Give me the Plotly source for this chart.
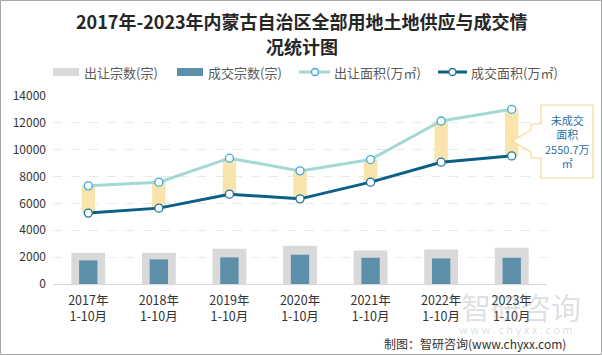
import plotly.graph_objects as go

categories = ["2017年<br>1-10月", "2018年<br>1-10月", "2019年<br>1-10月", "2020年<br>1-10月",
              "2021年<br>1-10月", "2022年<br>1-10月", "2023年<br>1-10月"]
supply_count = [2330, 2330, 2625, 2850, 2500, 2575, 2700]      # 出让宗数(宗)
deal_count = [1757, 1830, 1980, 2180, 1955, 1905, 1955]        # 成交宗数(宗)
supply_area = [7310, 7585, 9370, 8425, 9265, 12140, 13010]     # 出让面积(万㎡)
deal_area = [5280, 5650, 6690, 6340, 7585, 9070, 9540]         # 成交面积(万㎡)
y_ticks = [0, 2000, 4000, 6000, 8000, 10000, 12000, 14000]
y_tick_labels = [str(v) for v in y_ticks]

W, H = 602, 355
ML, MR, MT, MB = 53, 55, 96, 71
PW, PH = W - ML - MR, H - MT - MB
FONT = "Noto Sans CJK SC"


def px(x):
    return (x - ML) / PW


def py(y):
    return (H - MB - y) / PH


gap = [s - d for s, d in zip(supply_area, deal_area)]

fig = go.Figure()
fig.add_trace(go.Bar(x=categories, y=supply_count, width=0.48, marker_color="#D9D9D9",
                     marker_line_width=0, name="出让宗数(宗)"))
fig.add_trace(go.Bar(x=categories, y=deal_count, width=0.26, marker_color="#5E8FA8",
                     marker_line_width=0, name="成交宗数(宗)"))
fig.add_trace(go.Bar(x=categories, y=gap, base=deal_area, width=0.19, marker_color="#F9E4AC",
                     marker_line_width=0, name="未成交"))
fig.add_trace(go.Scatter(x=categories, y=supply_area, mode="lines+markers", name="出让面积(万㎡)",
                         line=dict(color="#A3D8D4", width=3),
                         marker=dict(size=8, color="white", line=dict(color="#3FA9DD", width=1.3))))
fig.add_trace(go.Scatter(x=categories, y=deal_area, mode="lines+markers", name="成交面积(万㎡)",
                         line=dict(color="#0C5F85", width=3),
                         marker=dict(size=8, color="white", line=dict(color="#1F74A6", width=1.3))))

shapes = []
annotations = []

# title
annotations.append(dict(text="<b>2017年-2023年内蒙古自治区全部用地土地供应与成交情</b>", x=px(302), y=py(21),
                        xref="paper", yref="paper", showarrow=False, xanchor="center", yanchor="middle",
                        font=dict(family=FONT, size=18, color="#262626")))
annotations.append(dict(text="<b>况统计图</b>", x=px(302), y=py(46),
                        xref="paper", yref="paper", showarrow=False, xanchor="center", yanchor="middle",
                        font=dict(family=FONT, size=18, color="#262626")))

# legend
ly = 72
shapes.append(dict(type="rect", xref="paper", yref="paper", x0=px(53), x1=px(79), y0=py(ly - 4), y1=py(ly + 4),
                   fillcolor="#D9D9D9", line_width=0))
shapes.append(dict(type="rect", xref="paper", yref="paper", x0=px(177), x1=px(203), y0=py(ly - 4), y1=py(ly + 4),
                   fillcolor="#5E8FA8", line_width=0))
shapes.append(dict(type="line", xref="paper", yref="paper", x0=px(299), x1=px(330), y0=py(ly), y1=py(ly),
                   line=dict(color="#A3D8D4", width=3)))
shapes.append(dict(type="circle", xref="paper", yref="paper", x0=px(311.5), x1=px(318.5), y0=py(ly - 3.5),
                   y1=py(ly + 3.5), fillcolor="white", line=dict(color="#3FA9DD", width=1.3)))
shapes.append(dict(type="line", xref="paper", yref="paper", x0=px(438), x1=px(467), y0=py(ly), y1=py(ly),
                   line=dict(color="#0C5F85", width=3)))
shapes.append(dict(type="circle", xref="paper", yref="paper", x0=px(449), x1=px(456), y0=py(ly - 3.5),
                   y1=py(ly + 3.5), fillcolor="white", line=dict(color="#1F74A6", width=1.3)))
for txt, x in [("出让宗数(宗)", 82), ("成交宗数(宗)", 206), ("出让面积(万㎡)", 332), ("成交面积(万㎡)", 469)]:
    annotations.append(dict(text=txt, x=px(x), y=py(ly), xref="paper", yref="paper", showarrow=False,
                            xanchor="left", yanchor="middle", font=dict(family=FONT, size=13, color="#595959")))

# callout
path = "M {},{} L {},{} L {},{} L {},{} L {},{} L {},{} L {},{} L {},{} L {},{} L {},{} L {},{} Z".format(
    px(541), py(105), px(593), py(105), px(593), py(178), px(541), py(178), px(541), py(158),
    px(531), py(158), px(531), py(152), px(512), py(141), px(531), py(130), px(531), py(124),
    px(541), py(124))
shapes.append(dict(type="path", xref="paper", yref="paper", path=path, fillcolor="white",
                   line=dict(color="#F9D58F", width=1.2)))
annotations.append(dict(text="未成交<br>面积<br>2550.7万<br>㎡", x=px(567), y=py(141.5), xref="paper",
                        yref="paper", showarrow=False, xanchor="center", yanchor="middle", align="center",
                        font=dict(family=FONT, size=11, color="#2F6F9F")))

# watermark
annotations.append(dict(text="智研咨询", x=px(521), y=py(306), xref="paper", yref="paper", showarrow=False,
                        xanchor="center", yanchor="middle",
                        font=dict(family=FONT, size=30, color="rgba(140,150,160,0.3)")))
annotations.append(dict(text="w w w . c h y x x . c o m", x=px(516), y=py(329), xref="paper", yref="paper",
                        showarrow=False, xanchor="center", yanchor="middle",
                        font=dict(family=FONT, size=11, color="rgba(140,150,160,0.3)")))

# footer
annotations.append(dict(text="制图：智研咨询(www.chyxx.com)", x=px(568), y=py(343), xref="paper", yref="paper",
                        showarrow=False, xanchor="right", yanchor="middle",
                        font=dict(family=FONT, size=12, color="#333333")))

# border
shapes.append(dict(type="rect", xref="paper", yref="paper", x0=px(0.5), x1=px(601.5), y0=py(0.5), y1=py(354.5),
                   line=dict(color="#A6A6A6", width=1), fillcolor="rgba(0,0,0,0)", layer="above"))

fig.update_layout(
    width=W, height=H, margin=dict(l=ML, r=MR, t=MT, b=MB),
    paper_bgcolor="white", plot_bgcolor="white",
    barmode="overlay", showlegend=False,
    font=dict(family=FONT, size=12, color="#333333"),
    shapes=shapes, annotations=annotations,
    xaxis=dict(type="category", showline=True, linecolor="#D9D9D9", linewidth=1, ticks="",
               ticklabelstandoff=5,
               tickfont=dict(family=FONT, size=12.5, color="#333333"), showgrid=False),
    yaxis=dict(range=[0, 14000], tickvals=y_ticks, ticktext=y_tick_labels, showgrid=True,
               gridcolor="#E8E8E8", griddash="dash",
               zeroline=False, showline=False, ticks="", ticklabelstandoff=6,
               tickfont=dict(family=FONT, size=12, color="#333333")),
)

fig.write_html("out.html", config={"displayModeBar": False},
               post_script="document.body.style.margin='0';")
